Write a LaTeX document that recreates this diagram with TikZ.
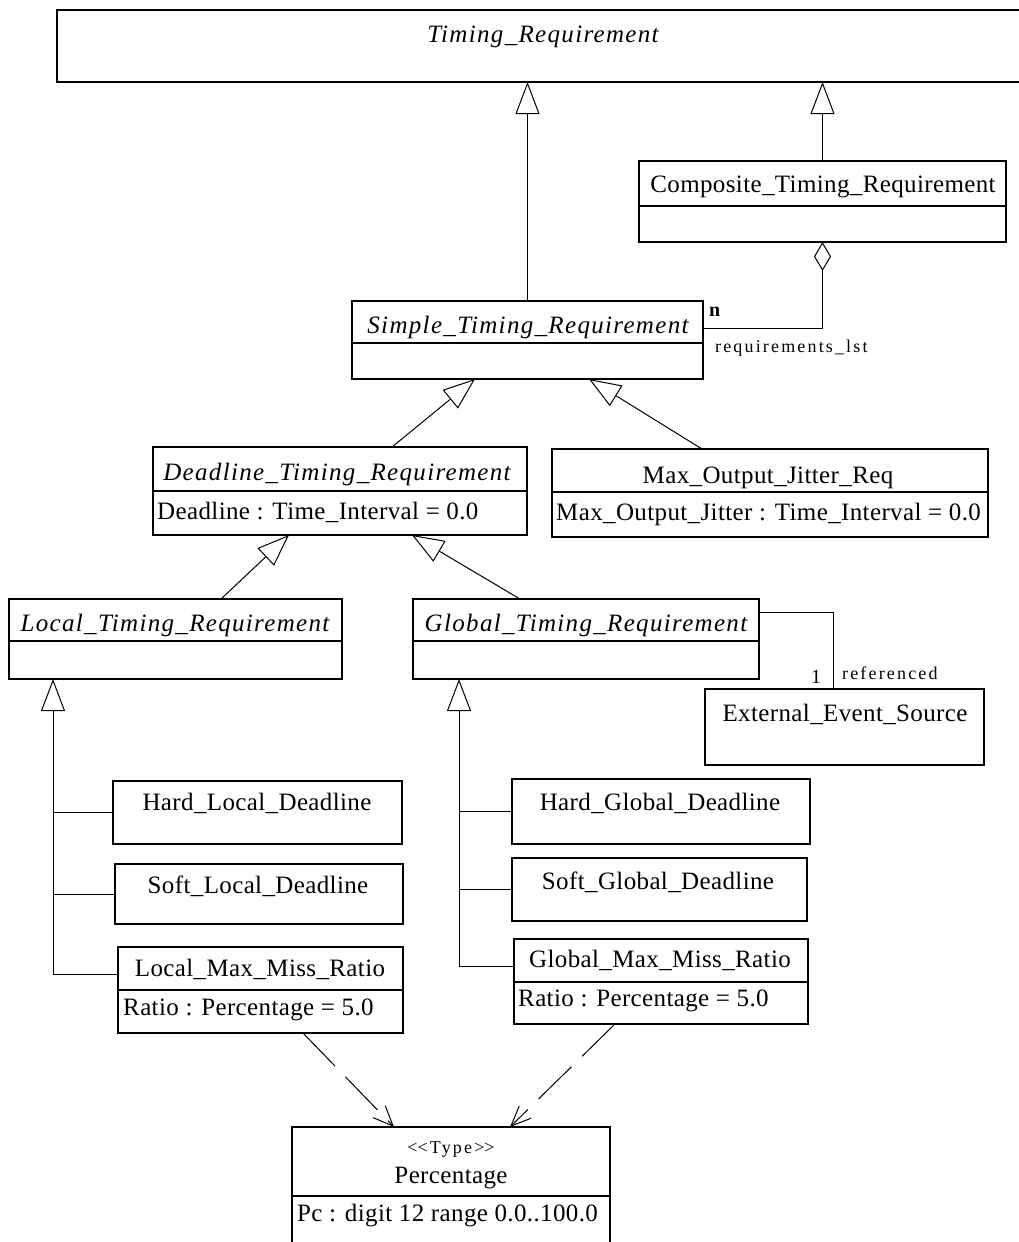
\documentclass[tikz,border=0pt]{standalone}
\usepackage{fontspec}
\setmainfont{Liberation Serif}[LetterSpace=1.5]
\newfontfamily\absfont{Liberation Serif}[LetterSpace=5.3]
\newfontfamily\tagfont{Liberation Serif}[LetterSpace=12]
\usetikzlibrary{arrows.meta,calc}

% class rectangle: name, x, y (top left), width, height
\newcommand\umlbox[5]{\node[classbox, minimum width=#4pt, minimum height=#5pt] (#1) at (#2,#3) {};}
% compartment separator: box name, offset from the top edge
\newcommand\divline[2]{\draw[rule] ($(#1.north west)+(0,#2)$) -- ($(#1.north east)+(0,#2)$);}

\begin{document}
\begin{tikzpicture}[x=1pt,y=-1pt,
  classbox/.style={draw, line width=1.2pt, inner sep=0pt, outer sep=0pt, anchor=north west},
  rule/.style={line width=1.2pt},
  cname/.style={inner sep=0pt, text height=16.5pt, text depth=0pt, font=\fontsize{25}{30}\selectfont},
  aname/.style={cname, font=\absfont\itshape\fontsize{25}{30}\selectfont},
  attr/.style={cname, anchor=west},
  tag/.style={inner sep=0pt, text height=12pt, text depth=0pt, font=\tagfont\fontsize{18}{22}\selectfont},
  link/.style={line width=1pt},
  gen/.style={link, -{Triangle[open, length=32pt, width=24pt, line width=1pt]}},
  agg/.style={link, {Diamond[open, length=29pt, width=17pt, line width=1pt]}-},
  dep/.style={link, dash pattern=on 46pt off 15pt, -{Straight Barb[length=20pt, width=17pt, line width=1pt]}}
]
\useasboundingbox (0,0) rectangle (1019,1242);
\clip (0,0) rectangle (1019,1242);

% ---- classes ----
\umlbox{Timing}{57}{10}{1000}{72}
\node[aname] (tTiming) at (543,34) {Timing\_Requirement};

\umlbox{Composite}{639}{161}{367}{81}
\divline{Composite}{45}
\node[cname] (tComposite) at (823,184) {Composite\_Timing\_Requirement};

\umlbox{Simple}{352}{301}{351}{78}
\divline{Simple}{42}
\node[aname] (tSimple) at (528,325) {Simple\_Timing\_Requirement};

\umlbox{Deadline}{153}{447}{374}{88}
\divline{Deadline}{44}
\node[aname] (tDeadline) at (337,472) {Deadline\_Timing\_Requirement};
\node[attr] (aDeadline) at (157,511) {Deadline : Time\_Interval = 0.0};

\umlbox{Jitter}{552}{449}{436}{88}
\divline{Jitter}{43}
\node[cname] (tJitter) at (768,475) {Max\_Output\_Jitter\_Req};
\node[attr] (aJitter) at (556,512) {Max\_Output\_Jitter : Time\_Interval = 0.0};

\umlbox{Local}{9}{599}{333}{80}
\divline{Local}{42}
\node[aname] (tLocal) at (175,623) {Local\_Timing\_Requirement};

\umlbox{Global}{413}{599}{346}{80}
\divline{Global}{42}
\node[aname] (tGlobal) at (586,623) {Global\_Timing\_Requirement};

\umlbox{External}{705}{689}{279}{76}
\node[cname] (tExternal) at (845,713) {External\_Event\_Source};

\umlbox{HardLocal}{113}{781}{289}{63}
\node[cname] (tHardLocal) at (257,802) {Hard\_Local\_Deadline};

\umlbox{SoftLocal}{115}{864}{288}{60}
\node[cname] (tSoftLocal) at (258,885) {Soft\_Local\_Deadline};

\umlbox{LocalMax}{118}{947}{285}{86}
\divline{LocalMax}{43}
\node[cname] (tLocalMax) at (260,968) {Local\_Max\_Miss\_Ratio};
\node[attr] (aLocalMax) at (123,1007) {Ratio : Percentage = 5.0};

\umlbox{HardGlobal}{512}{779}{298}{65}
\node[cname] (tHardGlobal) at (660,802) {Hard\_Global\_Deadline};

\umlbox{SoftGlobal}{512}{858}{295}{63}
\node[cname] (tSoftGlobal) at (658,881) {Soft\_Global\_Deadline};

\umlbox{GlobalMax}{514}{939}{294}{85}
\divline{GlobalMax}{43}
\node[cname] (tGlobalMax) at (660,959) {Global\_Max\_Miss\_Ratio};
\node[attr] (aGlobalMax) at (518,998) {Ratio : Percentage = 5.0};

\umlbox{Percentage}{292}{1127}{318}{160}
\divline{Percentage}{69}
\node[tag] (sPercentage) at (451,1147) {<\kern0pt<Type>\kern0pt>};
\node[cname] (tPercentage) at (451,1175) {Percentage};
\node[attr] (aPercentage) at (297,1213) {Pc : digit 12 range 0.0..100.0};

% ---- generalizations ----
\draw[gen] (Simple.north) -- (Simple.north |- Timing.south);
\draw[gen] (Composite.north) -- (Composite.north |- Timing.south);
\draw[gen] ($(Deadline.north west)+(239,0)$) -- ($(Simple.south west)+(123,0)$);
\draw[gen] ($(Jitter.north west)+(150,0)$) -- ($(Simple.south west)+(237,0)$);
\draw[gen] ($(Local.north west)+(212,0)$) -- ($(Deadline.south west)+(136,0)$);
\draw[gen] ($(Global.north west)+(107,0)$) -- ($(Deadline.south west)+(259,0)$);

% local deadline family
\coordinate (lbus) at ($(Local.south west)+(44,0)$);
\draw[gen] ($(LocalMax.north west)+(0,27)$) -| (lbus);
\draw[link] (HardLocal.west) -- (HardLocal.west -| lbus);
\draw[link] (SoftLocal.west) -- (SoftLocal.west -| lbus);

% global deadline family
\coordinate (gbus) at ($(Global.south west)+(46,0)$);
\draw[gen] ($(GlobalMax.north west)+(0,27)$) -| (gbus);
\draw[link] (HardGlobal.west) -- (HardGlobal.west -| gbus);
\draw[link] (SoftGlobal.west) -- (SoftGlobal.west -| gbus);

% ---- aggregation ----
\draw[agg] (Composite.south) |- ($(Simple.north east)+(0,27)$);
\node[inner sep=0pt, text height=13pt, text depth=0pt, font=\fontsize{20}{24}\selectfont\bfseries, anchor=west] (mult) at (709,310) {n};
\node[tag, anchor=west] (role) at (715,346) {requirements\_lst};

% ---- association ----
\draw[link] ($(Global.north east)+(0,13)$) -| ($(External.north west)+(128,0)$);
\node[inner sep=0pt, text height=13pt, text depth=0pt, font=\fontsize{20}{24}\selectfont] (one) at (816,677) {1};
\node[tag, anchor=west] (ref) at (842,673) {referenced};

% ---- dependencies ----
\draw[dep] ($(LocalMax.south west)+(185,0)$) -- ($(Percentage.north west)+(102,0)$);
\draw[dep] ($(GlobalMax.south west)+(101,0)$) -- ($(Percentage.north west)+(218,0)$);
\end{tikzpicture}
\end{document}
